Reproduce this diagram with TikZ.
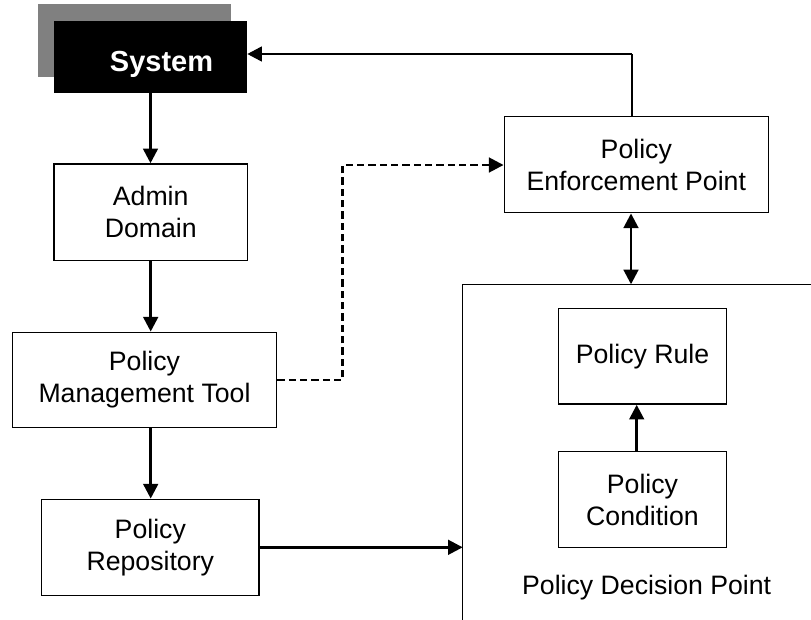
\documentclass[tikz,border=0pt]{standalone}
\usepackage{fontspec}
\setmainfont{Liberation Sans}
\usetikzlibrary{arrows.meta}
\begin{document}
\begin{tikzpicture}[x=0.75pt,y=-0.75pt,
  box/.style={draw=black,line width=1.1pt,fill=white,align=center,inner sep=0pt,
    font=\fontsize{20pt}{24pt}\selectfont},
  tip/.style={Triangle[length=11pt,width=11pt]},
  conn/.style={line width=2pt,-{Triangle[length=11pt,width=11pt]}},
  dconn/.style={conn,dash pattern=on 5.5pt off 3pt}]
\useasboundingbox (0,0) rectangle (811,619);
% shadow of system box
\fill[black!50] (38.3,4) rectangle (231,76.7);
\node[fill=black,inner sep=0pt,minimum width=144.75pt,minimum height=54pt,
  text=white,font=\fontsize{21.75pt}{26pt}\selectfont\bfseries,text height=22.5pt,text depth=0pt]
  (sys) at (150.5,56.7) {\hspace{16.5pt}System};
\node[box,minimum width=145pt,minimum height=72.5pt] (adm) at (150.7,212.3) {Admin\\Domain};
\node[box,minimum width=198.3pt,minimum height=71.5pt] (pmt) at (144.5,380) {Policy\\Management Tool};
\node[box,minimum width=163pt,minimum height=72.3pt] (rep) at (150.3,547.5) {Policy\\Repository};
\node[box,minimum width=198pt,minimum height=72pt] (pep) at (636.3,164.7) {Policy\\Enforcement Point};
% policy decision point container
\begin{scope}
\clip (0,0) rectangle (811,619);
\draw[line width=1.1pt] (462.7,640) -- (462.7,284.3) -- (840,284.3);
\end{scope}
\coordinate (pdptop) at (631,284.3);
\coordinate (pdpleft) at (462.7,547.3);
\node[box,minimum width=126.3pt,minimum height=71.8pt] (rule) at (642.5,356.2) {Policy Rule};
\node[box,minimum width=126.3pt,minimum height=72pt] (cond) at (642.5,499.7) {Policy\\Condition};
\node[font=\fontsize{20pt}{24pt}\selectfont,inner sep=0pt] (pdplbl) at (646.7,587.5) {Policy Decision Point};
% connectors
\draw[conn] (sys.south) -- (sys.south |- adm.north);
\draw[conn] (adm.south) -- (adm.south |- pmt.north);
\coordinate (m1) at (150.7,0);
\draw[conn] (pmt.south -| m1) -- (rep.north -| m1);
\draw[conn] (rep.east |- pdpleft) -- (pdpleft);
\coordinate (d1) at (342.7,380);
\coordinate (d2) at (342.7,165);
\draw[dconn] (pmt.east |- d1) -- (d1) -- (d2) -- (pep.west |- d2);
\draw[line width=2pt,{Triangle[length=11pt,width=11pt]}-{Triangle[length=11pt,width=11pt]}] (pep.south -| pdptop) -- (pdptop);
\coordinate (c1) at (636.7,0);
\draw[conn] (cond.north -| c1) -- (rule.south -| c1);
\coordinate (t1) at (631.7,54);
\draw[line width=1.4pt] (pep.north -| t1) -- (t1);
\draw[conn] (t1) -- (sys.east |- t1);
\end{tikzpicture}
\end{document}
